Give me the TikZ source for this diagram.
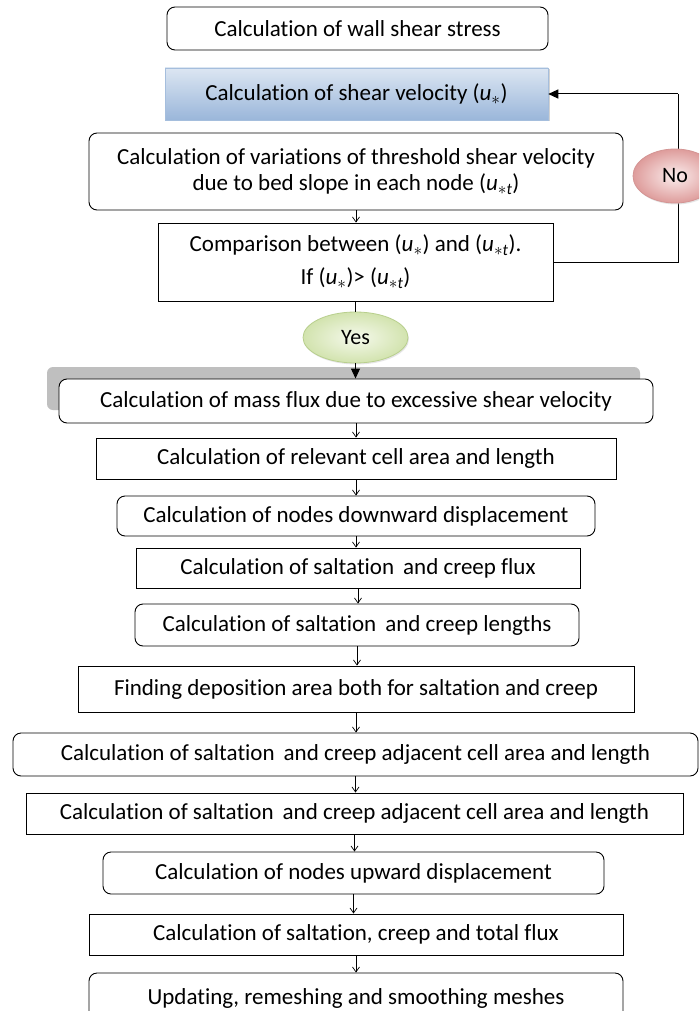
\documentclass[tikz,border=0pt]{standalone}
\usepackage{fontspec}
\setmainfont{Carlito}[Ligatures=NoCommon]
\usetikzlibrary{arrows.meta,shapes.geometric,shadows}
\definecolor{bluetop}{HTML}{DCE6F2}
\definecolor{bluebot}{HTML}{9AB6DA}
\definecolor{blueedge}{HTML}{A5BEDD}
\definecolor{pinkin}{HTML}{FBEDED}
\definecolor{pinkout}{HTML}{DE9C9B}
\definecolor{pinkedge}{HTML}{D49594}
\definecolor{greenin}{HTML}{F5F9EC}
\definecolor{greenout}{HTML}{D2E3AE}
\definecolor{greenedge}{HTML}{B8CF8D}
\definecolor{barbg}{HTML}{BFBFBF}
\tikzset{
  basebox/.style={draw=black, line width=0.9pt, inner sep=0pt, align=center,
    font=\fontsize{23}{27}\selectfont, fill=white},
  rbox/.style={basebox, rounded corners=8pt},
  sbox/.style={basebox},
  smallarr/.style={-{Straight Barb[length=5pt,width=7pt]}, line width=0.7pt},
  bigarr/.style={-{Triangle[length=10pt,width=9pt]}, line width=1pt},
  link/.style={line width=1pt},
}
\newcommand{\ustar}{\textit{u}$_{*}$}
\newcommand{\ustart}{\textit{u}$_{*\mathit{t}}$}
\newcommand{\lw}[1]{\raisebox{-3pt}{#1}}
\begin{document}
\begin{tikzpicture}[x=1pt,y=-1pt]
\useasboundingbox (0,0) rectangle (699,1011);
\clip (0,0) rectangle (699,1011);
\fill[white] (0,0) rectangle (699,1011);

\node[rbox, minimum width=381pt, minimum height=43pt] (b1) at (357.5,28.5) {\lw{Calculation of wall shear stress}};
\node[basebox, draw=blueedge, line width=0.5pt, top color=bluetop, bottom color=bluebot,
  drop shadow={shadow xshift=1.5pt, shadow yshift=-1.5pt, fill=black!35},
  minimum width=383pt, minimum height=52pt] (b2) at (356.5,94) {\lw{Calculation of shear velocity (\ustar)}};
\node[rbox, minimum width=534pt, minimum height=77pt] (b3) at (356,171.5)
  {Calculation of variations of threshold shear velocity\\[-1pt] due to bed slope in each node (\ustart)};
\node[sbox, minimum width=395pt, minimum height=78pt] (b4) at (355.5,262)
  {Comparison between (\ustar) and (\ustart).\\[6pt] If (\ustar)> (\ustart)};

\coordinate (fbx) at (678,0);
\draw[link] (b4.east) -- (b4.east -| fbx) -- (fbx |- b2.east);
\draw[bigarr] (fbx |- b2.east) -- (b2.east);
\node[ellipse, draw=pinkedge, line width=0.8pt, inner color=pinkin, outer color=pinkout,
  drop shadow={shadow xshift=1pt, shadow yshift=-1.5pt, fill=black!20},
  minimum width=84pt, minimum height=54pt, inner sep=0pt,
  font=\fontsize{22}{26}\selectfont] (no) at (675,176) {\lw{No}};

\node[ellipse, draw=greenedge, line width=0.8pt, inner color=greenin, outer color=greenout,
  drop shadow={shadow xshift=1pt, shadow yshift=-1.5pt, fill=black!20},
  minimum width=105pt, minimum height=51pt, inner sep=0pt,
  font=\fontsize{22}{26}\selectfont] (yes) at (355.5,337.5) {Yes};
\draw[link] (b4.south) -- (yes.north);

\fill[barbg, rounded corners=6pt] (47,367) rectangle (640,410);
\node[rbox, minimum width=594pt, minimum height=44pt] (b5) at (356,401)
  {\lw{Calculation of mass flux due to excessive shear velocity}};
\draw[bigarr] (yes.south) -- (yes.south |- b5.north);

\node[sbox, minimum width=520pt, minimum height=41pt] (b6) at (356,458.5) {\lw{Calculation of relevant cell area and length}};
\node[rbox, minimum width=478pt, minimum height=40pt] (b7) at (356,516) {\lw{Calculation of nodes downward displacement}};
\node[sbox, minimum width=444pt, minimum height=40pt] (b8) at (358,568) {\lw{Calculation of saltation \,and creep flux}};
\node[rbox, minimum width=444pt, minimum height=42pt] (b9) at (357,625) {\lw{Calculation of saltation \,and creep lengths}};
\node[sbox, minimum width=556pt, minimum height=46pt] (b10) at (356,689) {Finding deposition area both for saltation and creep};
\node[rbox, minimum width=685pt, minimum height=43pt] (b11) at (355.5,754.5) {\lw{Calculation of saltation \,and creep adjacent cell area and length}};
\node[sbox, minimum width=657pt, minimum height=41pt] (b12) at (354.5,813.5) {\lw{Calculation of saltation \,and creep adjacent cell area and length}};
\node[rbox, minimum width=501pt, minimum height=42pt] (b13) at (353.5,873) {\lw{Calculation of nodes upward displacement}};
\node[sbox, minimum width=534pt, minimum height=41pt] (b14) at (356,934.5) {\lw{Calculation of saltation, creep and total flux}};
\node[rbox, minimum width=534pt, minimum height=50pt] (b15) at (356,998) {\lw{Updating, remeshing and smoothing meshes}};

\draw[smallarr] (b3.south) -- (b3.south |- b4.north);
\foreach \a/\b in {b5/b6,b6/b7,b7/b8,b8/b9,b9/b10,b10/b11,b11/b12,b12/b13,b13/b14,b14/b15}
  \draw[smallarr] (\a.south) -- (\a.south |- \b.north);
\end{tikzpicture}
\end{document}
